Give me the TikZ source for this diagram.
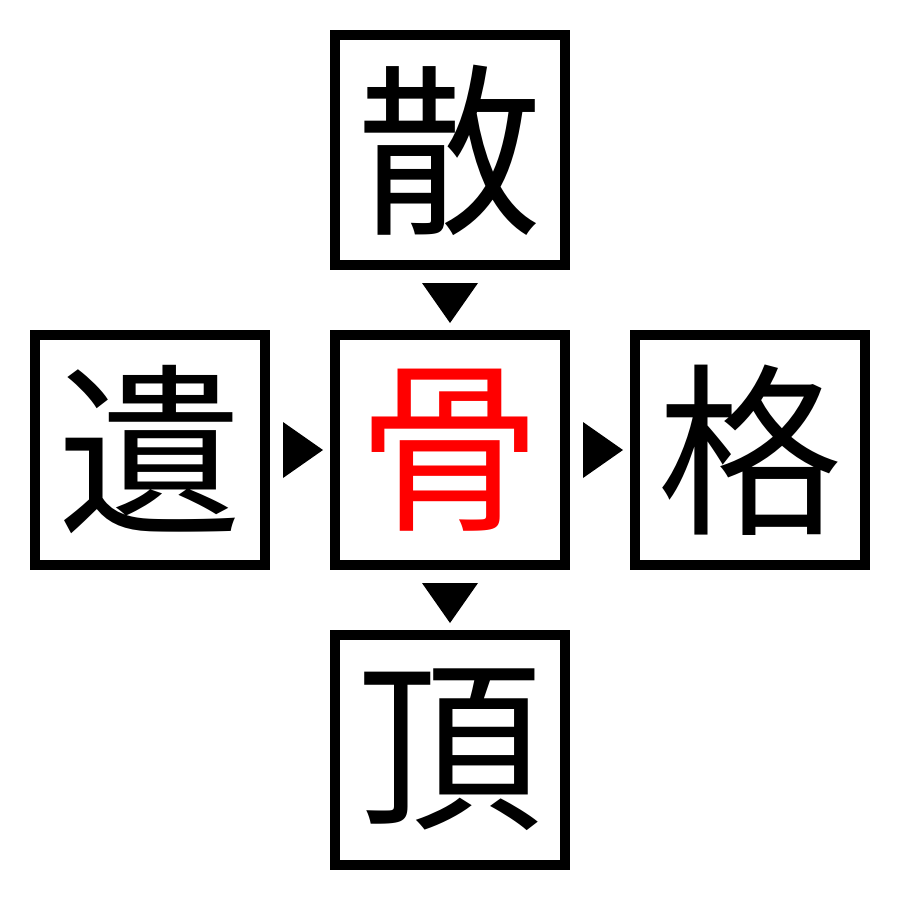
\documentclass[tikz,border=0pt]{standalone}
\usepackage{fontspec}
\usetikzlibrary{calc}
\newfontfamily\cjk{Noto Sans CJK JP}
\begin{document}
\begin{tikzpicture}[x=1pt,y=-1pt,
  charbox/.style={draw=black,line width=10pt,minimum size=230pt,inner sep=0pt,
    font=\cjk\fontsize{185}{185}\selectfont},
  tri/.style={fill=black}]
\useasboundingbox (0,0) rectangle (900,900);
\node[charbox] (top) at (450,150) {散};
\node[charbox] (left) at (150,450) {遺};
\node[charbox,text=red] (mid) at (450,450) {骨};
\node[charbox] (right) at (750,450) {格};
\node[charbox] (bot) at (450,750) {頂};
\fill[tri] ($(top.south)+(-28,13)$) -- ($(top.south)+(28,13)$) -- ($(top.south)+(0,53)$) -- cycle;
\fill[tri] ($(mid.south)+(-28,13)$) -- ($(mid.south)+(28,13)$) -- ($(mid.south)+(0,53)$) -- cycle;
\fill[tri] ($(left.east)+(13,-28)$) -- ($(left.east)+(13,28)$) -- ($(left.east)+(53,0)$) -- cycle;
\fill[tri] ($(mid.east)+(13,-28)$) -- ($(mid.east)+(13,28)$) -- ($(mid.east)+(53,0)$) -- cycle;
\end{tikzpicture}
\end{document}
